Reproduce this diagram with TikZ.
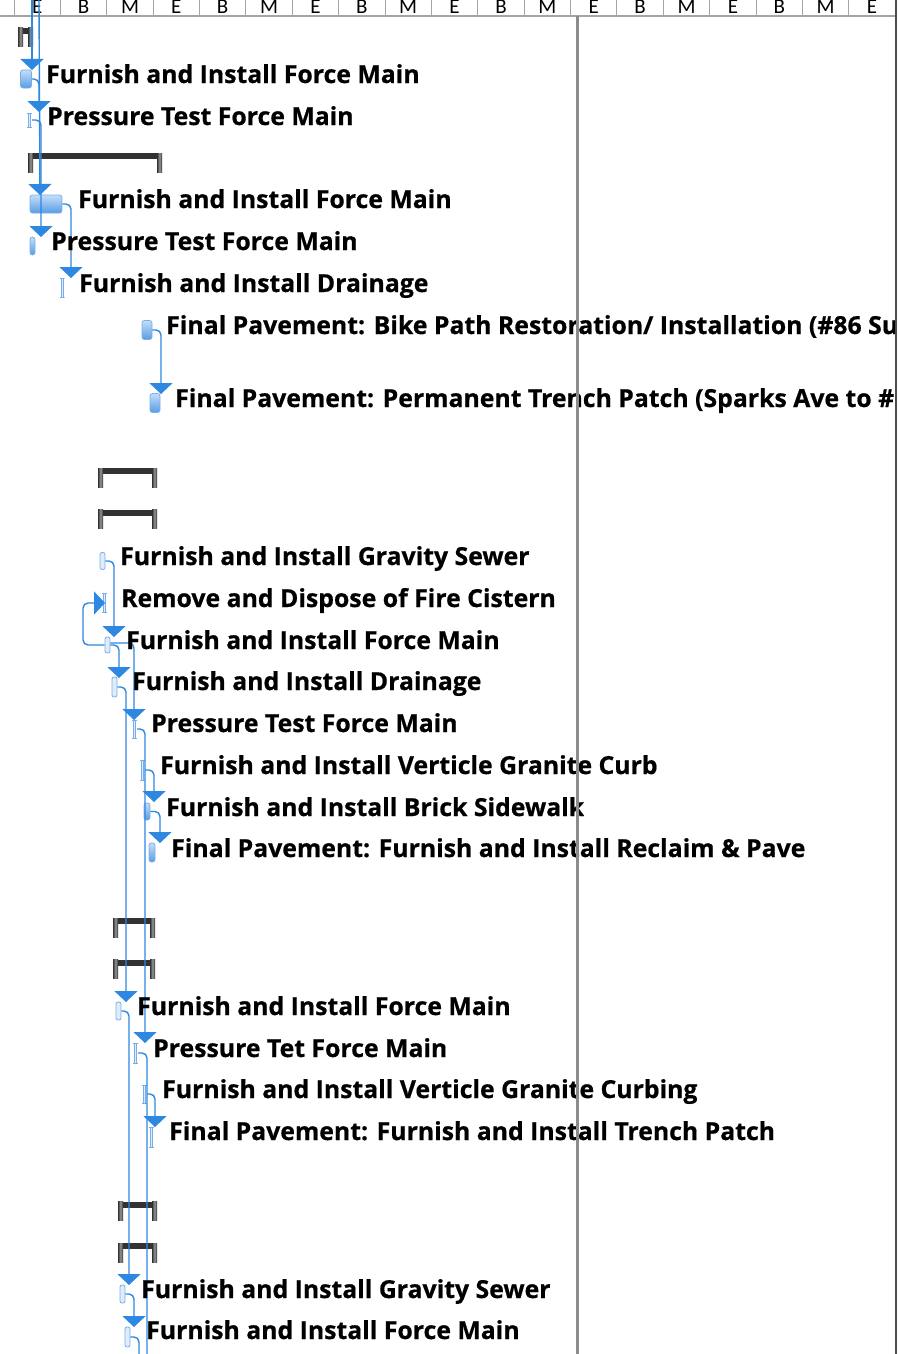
\documentclass[tikz,border=0pt]{standalone}
\usepackage{fontspec}
\usepackage{xcolor}
\usepackage{tikz}
\usetikzlibrary{arrows.meta}
\newfontfamily\taskfont{Open Sans}[BoldFeatures={FakeBold=0.6}]
\newfontfamily\headfont{Carlito}

\definecolor{linkblue}{RGB}{46,136,226}
\definecolor{barTop}{RGB}{196,222,248}
\definecolor{barBot}{RGB}{88,156,230}
\definecolor{barEdge}{RGB}{120,174,232}
\definecolor{barPale}{RGB}{222,236,251}
\definecolor{sumDark}{RGB}{50,50,50}
\definecolor{sumLight}{RGB}{150,150,150}
\definecolor{gridGray}{RGB}{165,165,165}
\definecolor{divGray}{RGB}{140,140,140}

\tikzset{
  lbl/.style={anchor=base west, inner sep=0pt, font=\fontsize{24.8}{28}\taskfont\bfseries},
  hdr/.style={anchor=base, inner sep=0pt, font=\fontsize{21}{22}\headfont},
  bar/.style={draw=barEdge, line width=0.8pt, rounded corners=2.5pt, top color=barTop, bottom color=barBot, inner sep=0pt},
  thinbar/.style={draw=barEdge, line width=0.8pt, rounded corners=2pt, fill=barPale, inner sep=0pt},
  ibeam/.style={inner sep=0pt, minimum width=5pt, path picture={
      \draw[barEdge, line width=0.8pt] ([xshift=-2.5pt]path picture bounding box.north) -- ([xshift=2.5pt]path picture bounding box.north);
      \draw[barEdge, line width=0.8pt] ([xshift=-2.5pt]path picture bounding box.south) -- ([xshift=2.5pt]path picture bounding box.south);
      \fill[barPale, draw=barEdge, line width=0.6pt] ([xshift=-1pt]path picture bounding box.north) rectangle ([xshift=1pt]path picture bounding box.south);
  }},
  summary/.style={inner sep=0pt, minimum height=19pt, path picture={
      \fill[sumDark] (path picture bounding box.north west) rectangle ([yshift=-6pt]path picture bounding box.north east);
      \fill[left color=sumDark, right color=sumDark, middle color=sumLight] (path picture bounding box.north west) rectangle ([xshift=5pt]path picture bounding box.south west);
      \fill[left color=sumDark, right color=sumDark, middle color=sumLight] ([xshift=-5pt]path picture bounding box.north east) rectangle (path picture bounding box.south east);
  }},
  link/.style={draw=linkblue, line width=1.4pt, rounded corners=5pt, -{Triangle[width=23pt,length=11pt]}},
  tail/.style={draw=linkblue, line width=1.4pt, rounded corners=5pt}
}

\begin{document}
\begin{tikzpicture}[x=1pt,y=1pt,yscale=-1,xscale=1]
  \useasboundingbox (0,0) rectangle (897,1354);
  \fill[white] (0,0) rectangle (897,1354);

  \begin{scope}
  \clip (0,0) rectangle (895,1354);

  % timescale header
  \draw[gridGray, line width=1pt] (14,0) -- (14,16) (60.4,0) -- (60.4,16) (106.8,0) -- (106.8,16) (153.1,0) -- (153.1,16)
     (199.5,0) -- (199.5,16) (245.9,0) -- (245.9,16) (292.3,0) -- (292.3,16) (338.7,0) -- (338.7,16) (385,0) -- (385,16)
     (431.4,0) -- (431.4,16) (477.8,0) -- (477.8,16) (524.2,0) -- (524.2,16) (570.6,0) -- (570.6,16) (616.9,0) -- (616.9,16)
     (663.3,0) -- (663.3,16) (709.7,0) -- (709.7,16) (756.1,0) -- (756.1,16) (802.5,0) -- (802.5,16) (848.8,0) -- (848.8,16);
  \draw[gridGray, line width=1.2pt] (0,16) -- (897,16);
  \draw (37.2,14) node [hdr] (h1) {E};
  \draw (83.6,14) node [hdr] (h2) {B};
  \draw (130,14) node [hdr] (h3) {M};
  \draw (176.3,14) node [hdr] (h4) {E};
  \draw (222.7,14) node [hdr] (h5) {B};
  \draw (269.1,14) node [hdr] (h6) {M};
  \draw (315.5,14) node [hdr] (h7) {E};
  \draw (361.9,14) node [hdr] (h8) {B};
  \draw (408.2,14) node [hdr] (h9) {M};
  \draw (454.6,14) node [hdr] (h10) {E};
  \draw (501,14) node [hdr] (h11) {B};
  \draw (547.4,14) node [hdr] (h12) {M};
  \draw (593.8,14) node [hdr] (h13) {E};
  \draw (640.1,14) node [hdr] (h14) {B};
  \draw (686.5,14) node [hdr] (h15) {M};
  \draw (732.9,14) node [hdr] (h16) {E};
  \draw (779.3,14) node [hdr] (h17) {B};
  \draw (825.7,14) node [hdr] (h18) {M};
  \draw (872,14) node [hdr] (h19) {E};

  % summary bars
  \node [summary, minimum width=15pt] (s1) at (25.5,37.5) {};
  \node [summary, minimum width=134pt] (s2) at (95,162.5) {};
  \node [summary, minimum width=59pt] (s3) at (127.5,477.5) {};
  \node [summary, minimum width=59pt] (s4) at (127.5,519) {};
  \node [summary, minimum width=42pt] (s5) at (134,927.5) {};
  \node [summary, minimum width=42pt] (s6) at (134,969) {};
  \node [summary, minimum width=39pt] (s7) at (137.5,1211) {};
  \node [summary, minimum width=39pt] (s8) at (137.5,1252.5) {};

  % task bars
  \node [bar, minimum width=11pt, minimum height=18pt] (fm1) at (26,79) {};
  \node [ibeam, minimum height=14pt] (pt1) at (29.5,120) {};
  \node [bar, minimum width=32pt, minimum height=18pt] (fm2) at (46,204) {};
  \node [bar, minimum width=5pt, minimum height=18pt] (pt2) at (32.5,246) {};
  \node [ibeam, minimum height=19pt] (dr1) at (62,287.5) {};
  \node [bar, minimum width=10pt, minimum height=19pt] (bp1) at (147,330) {};
  \node [bar, minimum width=10pt, minimum height=19pt] (tp1) at (155,403) {};
  \node [thinbar, minimum width=5pt, minimum height=17pt] (gs1) at (102.5,561) {};
  \node [ibeam, minimum height=19pt] (rd1) at (104.5,602.5) {};
  \node [thinbar, minimum width=5pt, minimum height=16pt] (fm3) at (107.5,645) {};
  \node [thinbar, minimum width=5pt, minimum height=20pt] (dr2) at (114.5,687) {};
  \node [ibeam, minimum height=18pt] (pt3) at (134.5,729) {};
  \node [ibeam, minimum height=20pt] (gc1) at (142.5,770) {};
  \node [bar, minimum width=6pt, minimum height=17pt] (bs1) at (147,811.5) {};
  \node [bar, minimum width=6pt, minimum height=19pt] (rp1) at (152,852.5) {};
  \node [thinbar, minimum width=5pt, minimum height=18pt] (fm4) at (118.5,1011) {};
  \node [ibeam, minimum height=20pt] (pt4) at (135.5,1053) {};
  \node [ibeam, minimum height=18pt] (gc2) at (144.5,1094) {};
  \node [ibeam, minimum height=20pt] (tp2) at (151.5,1137) {};
  \node [thinbar, minimum width=5pt, minimum height=18pt] (gs2) at (122.5,1294) {};
  \node [thinbar, minimum width=5pt, minimum height=20pt] (fm5) at (127.5,1337) {};

  % link end points
  \coordinate (top1) at (32,0);
  \coordinate (top2) at (39,0);
  \coordinate (t2) at (32,70);
  \coordinate (t3) at (39,112);
  \coordinate (t5) at (40,195);
  \coordinate (t6) at (41,237);
  \coordinate (t7) at (71,278);
  \coordinate (t9) at (161,394);
  \coordinate (loop) at (83,603);
  \coordinate (t13) at (105,603);
  \coordinate (t14) at (114,637);
  \coordinate (t15) at (119,678);
  \coordinate (t16) at (134,720);
  \coordinate (t18) at (154,802);
  \coordinate (t19) at (160,843);
  \coordinate (t22) at (126,1002);
  \coordinate (t23) at (145,1043);
  \coordinate (t25) at (155,1127);
  \coordinate (t28) at (129,1285);
  \coordinate (t29) at (134,1327);
  \coordinate (b1) at (147,1354);
  \coordinate (b2) at (139,1354);

  % links
  \draw [link] (top1) -- (t2);
  \draw [link] (top2) -- (t5);
  \draw [link] (fm1.east) -| (t3);
  \draw [link] (pt1.east) -| (t6);
  \draw [link] (fm2.east) -| (t7);
  \draw [link] (bp1.east) -| (t9);
  \draw [link] (gs1.east) -| (t14);
  \draw [link] (fm3.west) -| (loop) -- (t13);
  \draw [link] (fm3.east) -| (t15);
  \draw [link] ([yshift=-2pt]fm3.east) -| (t16);
  \draw [link] (dr2.east) -| (t22);
  \draw [link] (pt3.east) -| (t23);
  \draw [link] (gc1.east) -| (t18);
  \draw [link] (bs1.east) -| (t19);
  \draw [link] (fm4.east) -| (t28);
  \draw [tail] (pt4.east) -| (b1);
  \draw [link] (gc2.east) -| (t25);
  \draw [link] (gs2.east) -| (t29);
  \draw [tail] (fm5.east) -| (b2);

  % task names
  \draw (46,83) node [lbl] (n2) {Furnish and Install Force Main};
  \draw (47,125) node [lbl] (n3) {Pressure Test Force Main};
  \draw (78,208) node [lbl] (n5) {Furnish and Install Force Main};
  \draw (51,250) node [lbl] (n6) {Pressure Test Force Main};
  \draw (79,292) node [lbl] (n7) {Furnish and Install Drainage};
  \draw (166,334) node [lbl] (n8) {Final Pavement: Bike Path Restoration/ Installation (\#86 Su};
  \draw (175,407) node [lbl] (n9) {Final Pavement: Permanent Trench Patch (Sparks Ave to \#};
  \draw (120,565) node [lbl] (n12) {Furnish and Install Gravity Sewer};
  \draw (121,607) node [lbl] (n13) {Remove and Dispose of Fire Cistern};
  \draw (126,649) node [lbl] (n14) {Furnish and Install Force Main};
  \draw (132,690) node [lbl] (n15) {Furnish and Install Drainage};
  \draw (151,732) node [lbl] (n16) {Pressure Test Force Main};
  \draw (160,774) node [lbl] (n17) {Furnish and Install Verticle Granite Curb};
  \draw (166,816) node [lbl] (n18) {Furnish and Install Brick Sidewalk};
  \draw (171,857) node [lbl] (n19) {Final Pavement: Furnish and Install Reclaim \& Pave};
  \draw (137,1015) node [lbl] (n22) {Furnish and Install Force Main};
  \draw (153,1057) node [lbl] (n23) {Pressure Tet Force Main};
  \draw (162,1098) node [lbl] (n24) {Furnish and Install Verticle Granite Curbing};
  \draw (169,1140) node [lbl] (n25) {Final Pavement: Furnish and Install Trench Patch};
  \draw (141,1298) node [lbl] (n28) {Furnish and Install Gravity Sewer};
  \draw (146,1339) node [lbl] (n29) {Furnish and Install Force Main};

  % status date line
  \draw [divGray, line width=2.5pt] (577.5,16) -- (577.5,1354);
  \end{scope}

  \draw [black!70, line width=1.5pt] (896,0) -- (896,1354);
\end{tikzpicture}
\end{document}
